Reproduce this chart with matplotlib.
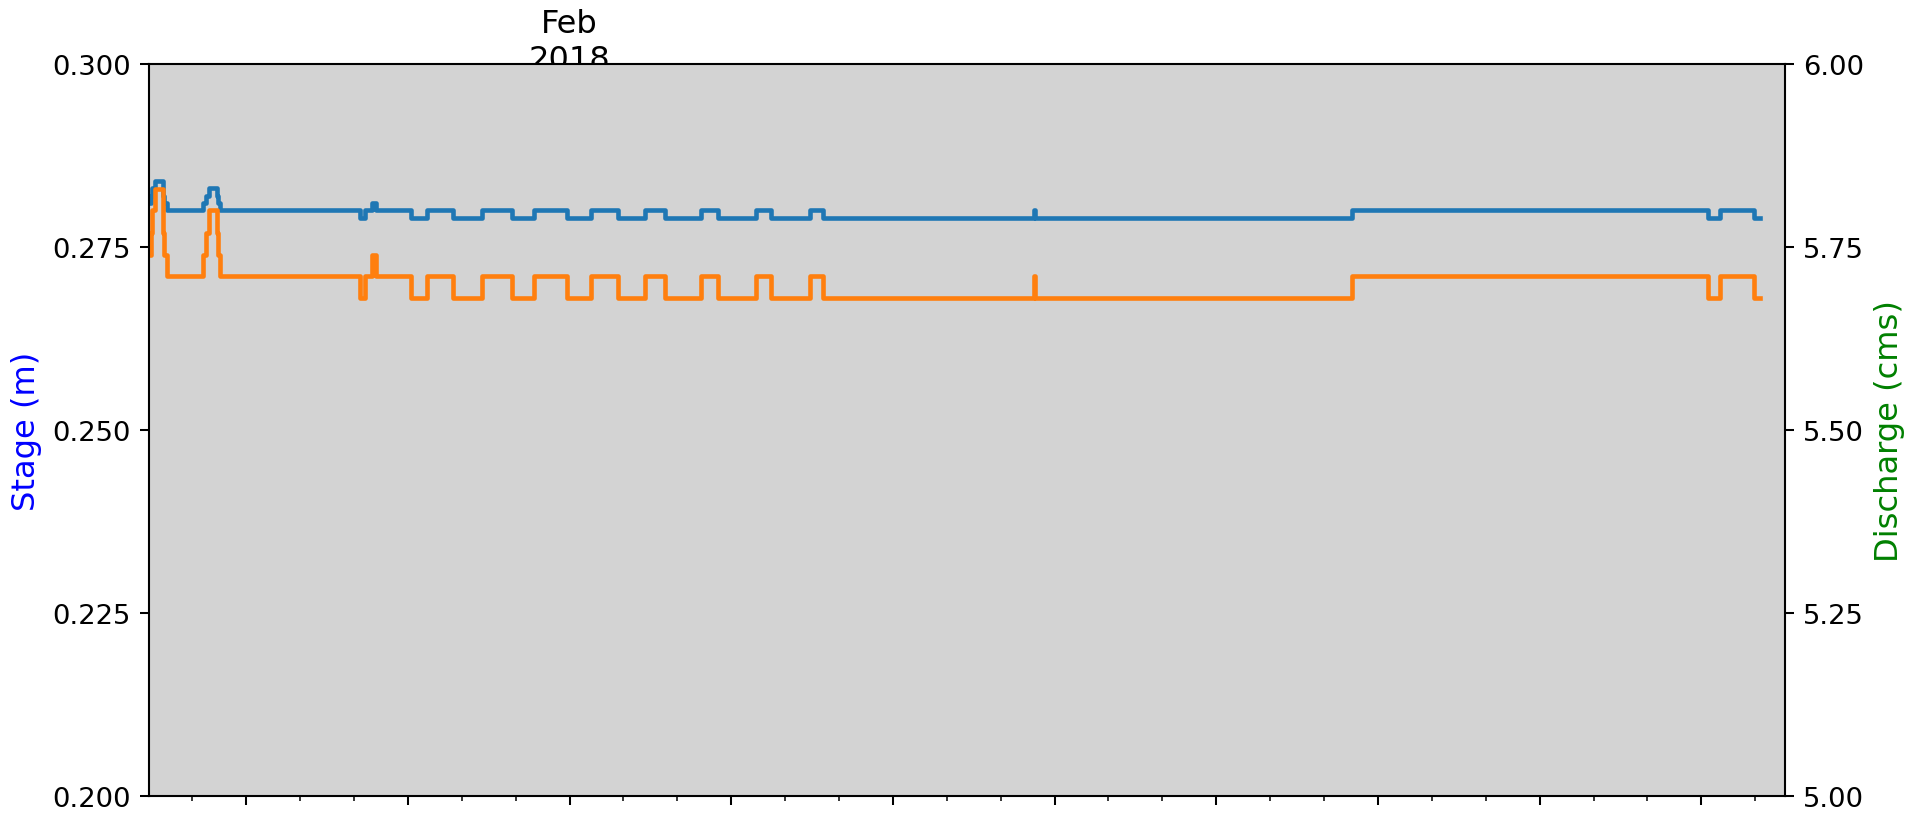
import matplotlib
matplotlib.use("Agg")
import matplotlib.pyplot as plt
import matplotlib.dates as mdates
import matplotlib.ticker as mticker
import matplotlib.transforms as mtransforms
import pandas as pd

# ---- data (change points of the step series) ----
times = [
    "2018-01-24 05:15", "2018-01-24 05:45", "2018-01-24 06:15", "2018-01-24 07:30",
    "2018-01-24 11:00", "2018-01-24 11:30", "2018-01-24 12:45",
    "2018-01-25 05:00", "2018-01-25 06:00", "2018-01-25 07:30",
    "2018-01-25 11:00", "2018-01-25 11:30", "2018-01-25 12:15",
    "2018-01-28 02:45", "2018-01-28 05:00", "2018-01-28 08:00", "2018-01-28 10:00",
    "2018-01-29 01:30", "2018-01-29 08:30", "2018-01-29 20:15",
    "2018-01-30 09:00", "2018-01-30 22:15", "2018-01-31 08:00", "2018-01-31 22:45",
    "2018-02-01 09:30", "2018-02-01 21:45", "2018-02-02 09:30", "2018-02-02 18:30",
    "2018-02-03 10:30", "2018-02-03 18:15", "2018-02-04 11:00", "2018-02-04 17:30",
    "2018-02-05 11:00", "2018-02-05 17:00",
    "2018-02-09 15:00", "2018-02-09 15:30",
    "2018-02-15 12:15", "2018-02-22 02:45", "2018-02-22 08:15", "2018-02-22 23:30",
    "2018-02-23 02:15",
]
stage = [
    0.281, 0.282, 0.283, 0.284,
    0.282, 0.281, 0.280,
    0.281, 0.282, 0.283,
    0.282, 0.281, 0.280,
    0.279, 0.280, 0.281, 0.280,
    0.279, 0.280, 0.279,
    0.280, 0.279, 0.280, 0.279,
    0.280, 0.279, 0.280, 0.279,
    0.280, 0.279, 0.280, 0.279,
    0.280, 0.279,
    0.280, 0.279,
    0.280, 0.279, 0.280, 0.279,
    0.279,
]
discharge = [
    5.739, 5.769, 5.800, 5.829,
    5.769, 5.739, 5.710,
    5.739, 5.769, 5.800,
    5.769, 5.739, 5.710,
    5.680, 5.710, 5.739, 5.710,
    5.680, 5.710, 5.680,
    5.710, 5.680, 5.710, 5.680,
    5.710, 5.680, 5.710, 5.680,
    5.710, 5.680, 5.710, 5.680,
    5.710, 5.680,
    5.710, 5.680,
    5.710, 5.680, 5.710, 5.680,
    5.680,
]
x_start = "2018-01-24 04:45"
x_end = "2018-02-23 13:15"
major_ticks = pd.date_range("2018-01-26", "2018-02-22", freq="3D")
month_label = "Feb\n2018"
month_label_date = "2018-02-01"

t = pd.to_datetime(times)

W, H, DPI = 1929, 815, 184
fig = plt.figure(figsize=(W / DPI, H / DPI), dpi=DPI)
ax1 = fig.add_axes([149 / W, 1 - 797 / H, (1785 - 149) / W, (797 - 65) / H])
ax1.set_facecolor("lightgray")
ax2 = ax1.twinx()

ax1.plot(t, stage, color="C0", lw=1.8, drawstyle="steps-post")
ax2.plot(t, discharge, color="C1", lw=1.8, drawstyle="steps-post")

ax1.set_ylim(0.2, 0.3)
ax2.set_ylim(5.0, 6.0)
ax1.set_yticks([0.200, 0.225, 0.250, 0.275, 0.300])
ax2.set_yticks([5.00, 5.25, 5.50, 5.75, 6.00])
ax1.set_xlim(pd.Timestamp(x_start), pd.Timestamp(x_end))

ax1.xaxis.set_major_locator(mticker.FixedLocator(mdates.date2num(major_ticks)))
ax1.xaxis.set_minor_locator(mdates.DayLocator())
ax1.xaxis.set_major_formatter(mticker.NullFormatter())
ax1.xaxis.set_minor_formatter(mticker.NullFormatter())

ax1.tick_params(axis="both", labelsize=10.7)
ax2.tick_params(axis="y", labelsize=10.7)

ax1.set_ylabel("Stage (m)", color="blue", fontsize=12.6)
ax2.set_ylabel("Discharge (cms)", color="green", fontsize=12.6)

blend = mtransforms.blended_transform_factory(ax1.transData, fig.transFigure)
fig.text(mdates.date2num(pd.Timestamp(month_label_date)), 1 - 69 / H, month_label,
         transform=blend, ha="center", va="baseline", fontsize=12.6, zorder=-1)

fig.savefig("out.png", dpi=DPI)
